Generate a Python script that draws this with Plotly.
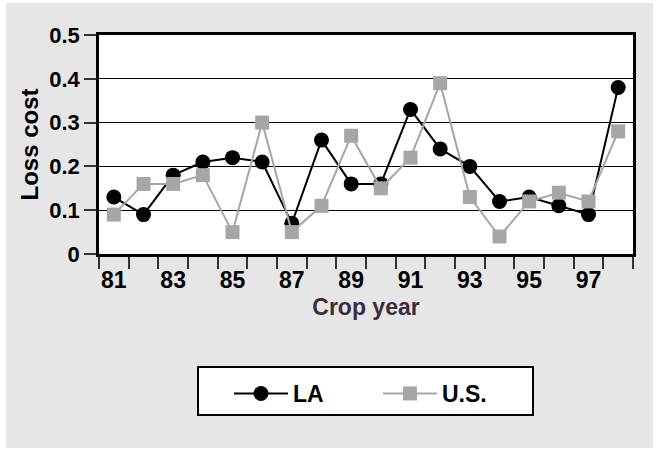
import plotly.graph_objects as go

# Crop years and loss-cost series
years = list(range(81, 99))
la_loss = [0.13, 0.09, 0.18, 0.21, 0.22, 0.21, 0.07, 0.26, 0.16, 0.16,
           0.33, 0.24, 0.20, 0.12, 0.13, 0.11, 0.09, 0.38]
us_loss = [0.09, 0.16, 0.16, 0.18, 0.05, 0.30, 0.05, 0.11, 0.27, 0.15,
           0.22, 0.39, 0.13, 0.04, 0.12, 0.14, 0.12, 0.28]
x_tick_years = [81, 83, 85, 87, 89, 91, 93, 95, 97]
y_ticks = [0, 0.1, 0.2, 0.3, 0.4, 0.5]

W, H = 657, 449
ML, MR, MT, MB = 99, 24, 35, 195
PW, PH = W - ML - MR, H - MT - MB


def px_x(px):
    return (px - ML) / PW


def px_y(py):
    return (H - MB - py) / PH


FONT = "Liberation Sans"
BG = "#e6e6e6"
GRAY = "#a6a6a6"

fig = go.Figure()
fig.add_trace(go.Scatter(
    x=years, y=la_loss, name="LA", mode="lines+markers",
    line=dict(color="black", width=2),
    marker=dict(symbol="circle", size=15, color="black"),
))
fig.add_trace(go.Scatter(
    x=years, y=us_loss, name="U.S.", mode="lines+markers",
    line=dict(color=GRAY, width=2),
    marker=dict(symbol="square", size=14, color=GRAY),
))

# White frame around the grey panel
shapes = []
for x0, y0, x1, y1 in [(0, 0, 6, H), (653, 0, W, H), (0, 0, W, 3), (0, 448, W, H)]:
    shapes.append(dict(type="rect", xref="paper", yref="paper",
                       x0=px_x(x0), x1=px_x(x1), y0=px_y(y0), y1=px_y(y1),
                       fillcolor="white", line=dict(width=0), layer="above"))
# Legend box
shapes.append(dict(type="rect", xref="paper", yref="paper",
                   x0=px_x(198), x1=px_x(533), y0=px_y(367), y1=px_y(415),
                   fillcolor="white", line=dict(color="black", width=2),
                   layer="above"))

fig.update_layout(
    width=W, height=H,
    margin=dict(l=ML, r=MR, t=MT, b=MB, pad=0),
    paper_bgcolor=BG, plot_bgcolor="white",
    font=dict(family=FONT, color="black", weight="bold"),
    shapes=shapes,
    showlegend=True,
    legend=dict(
        orientation="h", xref="paper", yref="paper",
        x=px_x(229), xanchor="left", y=px_y(372), yanchor="top",
        bgcolor="rgba(0,0,0,0)", borderwidth=0,
        font=dict(family=FONT, size=23, color="black", weight="bold"),
        itemwidth=54, entrywidth=80, entrywidthmode="pixels",
    ),
    xaxis=dict(
        range=[80.5, 98.5], tickmode="array", tickvals=x_tick_years,
        ticktext=[str(v) for v in x_tick_years],
        ticks="outside", ticklen=4, tickcolor="rgba(0,0,0,0)",
        tickfont=dict(family=FONT, size=23, color="black", weight="bold"),
        minor=dict(tickmode="array", tickvals=[v - 0.5 for v in years] + [98.5],
                   ticks="outside", ticklen=12, tickwidth=1.5,
                   tickcolor="#333333", showgrid=False),
        showgrid=False, zeroline=False,
        showline=True, linecolor="black", linewidth=2.5, mirror=True,
        title=dict(text="Crop year", standoff=7,
                   font=dict(family=FONT, size=23, color="#3b2d3b", weight="bold")),
    ),
    yaxis=dict(
        range=[0, 0.5], tickmode="array", tickvals=y_ticks,
        ticks="outside", ticklen=12, tickwidth=1.5, tickcolor="#333333",
        tickfont=dict(family=FONT, size=22, color="black", weight="bold"),
        showgrid=True, gridcolor="black", gridwidth=1, zeroline=False,
        showline=True, linecolor="black", linewidth=2.5, mirror=True,
        title=dict(text="Loss cost", standoff=4,
                   font=dict(family=FONT, size=24, color="black", weight="bold")),
    ),
)

fig.write_html("out.html")
